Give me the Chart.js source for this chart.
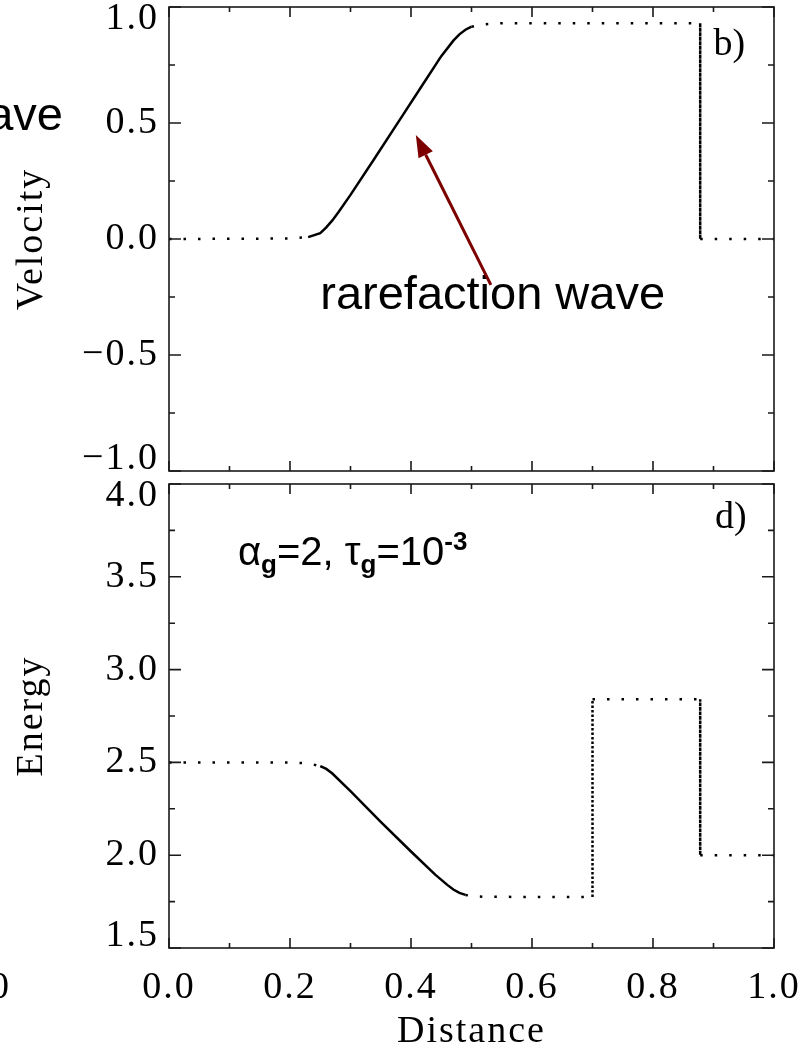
<!DOCTYPE html>
<html>
<head>
<meta charset="utf-8">
<script src="https://cdn.jsdelivr.net/npm/chart.js@4.4.0/dist/chart.umd.min.js"></script>
<style>
  body { margin: 0; background: #fff; }
  #wrap { position: relative; width: 811px; height: 1048px; overflow: hidden; }
  canvas { position: absolute; left: 0; }
  #velChart { top: 0; }
  #eneChart { top: 478px; }
</style>
</head>
<body>
<div id="wrap">
  <canvas id="velChart" width="811" height="478"></canvas>
  <canvas id="eneChart" width="811" height="570"></canvas>
</div>
<script>
// values (distance, velocity / energy)
const X_VEL = [0, 0.2, 0.23, 0.25, 0.26, 0.27, 0.28, 0.30, 0.34, 0.38, 0.42, 0.45, 0.47, 0.48, 0.49, 0.50, 0.52, 0.55, 0.878, 0.878, 1.0];
const VELOCITY = [0, 0.002, 0.008, 0.025, 0.05, 0.08, 0.115, 0.19, 0.348, 0.508, 0.668, 0.788, 0.855, 0.882, 0.902, 0.915, 0.925, 0.93, 0.93, 0.0, 0.0];

const X_ENE = [0, 0.2, 0.23, 0.25, 0.26, 0.27, 0.30, 0.35, 0.40, 0.44, 0.46, 0.47, 0.48, 0.49, 0.50, 0.52, 0.60, 0.70, 0.70, 0.878, 0.878, 1.0];
const ENERGY = [2.5, 2.5, 2.495, 2.48, 2.465, 2.44, 2.345, 2.18, 2.02, 1.895, 1.84, 1.815, 1.797, 1.786, 1.78, 1.776, 1.775, 1.775, 2.84, 2.84, 2.0, 2.0];

const X_RANGE = [0, 1];
const VEL_RANGE = [-1, 1];
const ENE_RANGE = [1.5, 4];
const X_STEP = 0.2, X_MINOR = 0.1;
const Y_STEP = 0.5, Y_MINOR = 0.25;

const SERIF = "'Liberation Serif', serif";
const SANS = "'Liberation Sans', Arial, sans-serif";
const RED = '#7d0000';
const AXIS_PX = 38;

function points(xs, ys) {
  return xs.map((x, i) => ({ x: x, y: ys[i] }));
}

// flat runs dotted, jumps densely dotted, slopes solid
function segDash(ctx) {
  const dx = Math.abs(ctx.p1.x - ctx.p0.x);
  const dy = Math.abs(ctx.p1.y - ctx.p0.y);
  if (dx < 1) return [2.5, 2];
  if (dy < 0.25 * dx) return [2.5, 12];
  return undefined;
}

function fmt(v, min, max) {
  let s = Math.abs(v).toFixed(1);
  if (v < 0) s = '\u2212' + s;
  if (v === max) return ['', s];
  if (v === min) return [s, ''];
  return s;
}

// box with inward ticks on all four sides
const framePlugin = {
  id: 'frame',
  beforeDraw(chart) {
    chart.ctx.letterSpacing = '2px';
  },
  afterDatasetsDraw(chart) {
    const { ctx, chartArea: a, scales: { x, y } } = chart;
    ctx.save();
    ctx.strokeStyle = '#1a1a1a';
    ctx.lineWidth = 1.6;
    ctx.strokeRect(a.left, a.top, a.right - a.left, a.bottom - a.top);
    ctx.beginPath();
    const nx = Math.round((x.max - x.min) / X_MINOR);
    for (let i = 0; i <= nx; i++) {
      const px = x.getPixelForValue(x.min + i * X_MINOR);
      const len = i % 2 === 0 ? 10 : 5;
      ctx.moveTo(px, a.bottom); ctx.lineTo(px, a.bottom - len);
      ctx.moveTo(px, a.top); ctx.lineTo(px, a.top + len);
    }
    const ny = Math.round((y.max - y.min) / Y_MINOR);
    for (let i = 0; i <= ny; i++) {
      const py = y.getPixelForValue(y.min + i * Y_MINOR);
      const len = i % 2 === 0 ? 12 : 6;
      ctx.moveTo(a.left, py); ctx.lineTo(a.left + len, py);
      ctx.moveTo(a.right, py); ctx.lineTo(a.right - len, py);
    }
    ctx.stroke();
    ctx.restore();
  }
};

function drawRuns(ctx, x, y, runs) {
  for (const r of runs) {
    ctx.font = r.font;
    ctx.fillText(r.t, x, y + (r.dy || 0));
    x += ctx.measureText(r.t).width;
  }
}

const velNotes = {
  id: 'velNotes',
  afterDraw(chart) {
    const { ctx, scales: { x, y } } = chart;
    ctx.save();
    ctx.letterSpacing = '0px';
    ctx.fillStyle = '#000';
    ctx.textBaseline = 'alphabetic';
    // panel tag
    ctx.font = '38px ' + SERIF;
    ctx.fillText('b)', x.getPixelForValue(0.9), y.getPixelForValue(0.793));
    // annotation
    ctx.font = '47px ' + SANS;
    ctx.fillText('rarefaction wave', x.getPixelForValue(0.25), y.getPixelForValue(-0.3));
    // neighbouring panel's label, clipped at the left edge
    ctx.textAlign = 'right';
    ctx.fillText('wave', 63, 130);
    // arrow
    const x0 = x.getPixelForValue(0.532), y0 = y.getPixelForValue(-0.198);
    const x1 = x.getPixelForValue(0.408), y1 = y.getPixelForValue(0.448);
    const ang = Math.atan2(y1 - y0, x1 - x0);
    const hl = 22, hw = 8;
    ctx.strokeStyle = RED;
    ctx.fillStyle = RED;
    ctx.lineWidth = 3;
    ctx.beginPath();
    ctx.moveTo(x0, y0);
    ctx.lineTo(x1 - hl * Math.cos(ang), y1 - hl * Math.sin(ang));
    ctx.stroke();
    ctx.beginPath();
    ctx.moveTo(x1, y1);
    ctx.lineTo(x1 - hl * Math.cos(ang) + hw * Math.sin(ang), y1 - hl * Math.sin(ang) - hw * Math.cos(ang));
    ctx.lineTo(x1 - hl * Math.cos(ang) - hw * Math.sin(ang), y1 - hl * Math.sin(ang) + hw * Math.cos(ang));
    ctx.closePath();
    ctx.fill();
    ctx.restore();
  }
};

const eneNotes = {
  id: 'eneNotes',
  afterDraw(chart) {
    const { ctx, scales: { x, y } } = chart;
    ctx.save();
    ctx.letterSpacing = '0px';
    ctx.fillStyle = '#000';
    ctx.font = '38px ' + SERIF;
    ctx.fillText('d)', x.getPixelForValue(0.9025), y.getPixelForValue(3.763));
    const big = '40px ' + SANS, small = 'bold 26px ' + SANS;
    drawRuns(ctx, x.getPixelForValue(0.114), y.getPixelForValue(3.564), [
      { t: '\u03b1', font: big },
      { t: 'g', font: small, dy: 8 },
      { t: '=2, ', font: big },
      { t: '\u03c4', font: big },
      { t: 'g', font: small, dy: 8 },
      { t: '=10', font: big },
      { t: '-3', font: small, dy: -15 }
    ]);
    // neighbouring panel's last x label, clipped at the left edge
    ctx.letterSpacing = '2px';
    ctx.font = AXIS_PX + 'px ' + SERIF;
    ctx.textAlign = 'right';
    ctx.textBaseline = 'middle';
    ctx.fillText('1.0', 11, 510);
    ctx.restore();
  }
};

function yScale(range, title) {
  return {
    type: 'linear',
    min: range[0],
    max: range[1],
    grid: { display: false, drawTicks: false },
    border: { display: false },
    ticks: {
      stepSize: Y_STEP,
      padding: 10,
      color: '#000',
      font: { family: SERIF, size: AXIS_PX, lineHeight: 0.63 },
      callback: v => fmt(v, range[0], range[1])
    },
    title: {
      display: true,
      text: title,
      color: '#000',
      padding: { top: 9, bottom: 0 },
      font: { family: SERIF, size: AXIS_PX }
    },
    afterFit: s => {
      s.width = 169;
      s.paddingTop = 0;
      s.paddingBottom = 0;
    }
  };
}

function lineData(xs, ys) {
  return {
    datasets: [{
      data: points(xs, ys),
      borderColor: '#000',
      borderWidth: 2.5,
      pointRadius: 0,
      tension: 0,
      borderCapStyle: 'butt',
      segment: { borderDash: segDash }
    }]
  };
}

const common = {
  responsive: false,
  animation: false,
  plugins: { legend: { display: false }, tooltip: { enabled: false } }
};

new Chart(document.getElementById('velChart'), {
  type: 'line',
  data: lineData(X_VEL, VELOCITY),
  options: Object.assign({}, common, {
    layout: { padding: { top: 7, right: 37, bottom: 7, left: 0 } },
    scales: {
      x: { type: 'linear', display: false, min: X_RANGE[0], max: X_RANGE[1] },
      y: yScale(VEL_RANGE, 'Velocity')
    }
  }),
  plugins: [framePlugin, velNotes]
});

new Chart(document.getElementById('eneChart'), {
  type: 'line',
  data: lineData(X_ENE, ENERGY),
  options: Object.assign({}, common, {
    layout: { padding: { top: 6, right: 37, bottom: 0, left: 0 } },
    scales: {
      x: {
        type: 'linear',
        min: X_RANGE[0],
        max: X_RANGE[1],
        grid: { display: false, drawTicks: false },
        border: { display: false },
        ticks: {
          stepSize: X_STEP,
          padding: 17,
          maxRotation: 0,
          color: '#000',
          font: { family: SERIF, size: AXIS_PX },
          callback: v => v.toFixed(1)
        },
        title: {
          display: true,
          text: 'Distance',
          color: '#000',
          padding: { top: 0, bottom: 0 },
          font: { family: SERIF, size: AXIS_PX, lineHeight: 0.84 }
        },
        afterFit: s => {
          s.height = 100;
          s.paddingLeft = 0;
          s.paddingRight = 0;
        }
      },
      y: yScale(ENE_RANGE, 'Energy')
    }
  }),
  plugins: [framePlugin, eneNotes]
});
</script>
</body>
</html>
